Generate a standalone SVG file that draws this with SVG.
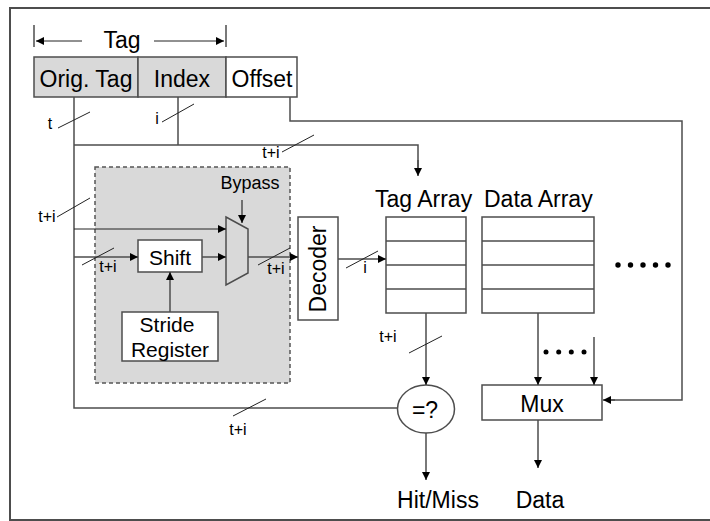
<svg xmlns="http://www.w3.org/2000/svg" width="710" height="521" viewBox="0 0 710 521">
  <style>
    .ln { fill: none; stroke: #4d4d4d; stroke-width: 1.5; }
    .thin { fill: none; stroke: #222; stroke-width: 1; }
    .box { fill: #fff; stroke: #4d4d4d; stroke-width: 1.5; }
    .grey { fill: #d9d9d9; stroke: #4d4d4d; stroke-width: 1.5; }
    .t { font-family: "Liberation Sans", Arial, sans-serif; fill: #000; }
    .big { font-size: 23px; }
    .mid { font-size: 21px; }
    .sm { font-size: 16px; }
    .dot { fill: #000; }
  </style>
  <defs>
    <marker id="arr" markerUnits="userSpaceOnUse" markerWidth="10" markerHeight="10" refX="9" refY="5" orient="auto">
      <path d="M1,1 L9,5 L1,9 Z" fill="#000"/>
    </marker>
  </defs>

  <!-- frame -->
  <rect x="10" y="8" width="720" height="512" fill="#fff" stroke="#4d4d4d" stroke-width="2"/>

  <!-- address fields -->
  <g id="tag-span">
    <line class="ln" x1="34" y1="25" x2="34" y2="47"/>
    <line class="ln" x1="226" y1="25" x2="226" y2="47"/>
    <line class="thin" x1="82" y1="41" x2="36" y2="41" marker-end="url(#arr)"/>
    <line class="thin" x1="154" y1="41" x2="224" y2="41" marker-end="url(#arr)"/>
    <text class="t big" x="122" y="48" text-anchor="middle">Tag</text>
  </g>
  <g id="orig-tag">
    <rect class="grey" x="34" y="57" width="104" height="40"/>
    <text class="t big" x="86" y="87" text-anchor="middle">Orig. Tag</text>
  </g>
  <g id="index">
    <rect class="grey" x="138" y="57" width="88" height="40"/>
    <text class="t big" x="182" y="87" text-anchor="middle">Index</text>
  </g>
  <g id="offset">
    <rect class="box" x="226" y="57" width="71" height="40"/>
    <text class="t big" x="262" y="87" text-anchor="middle">Offset</text>
  </g>

  <!-- prefetch shift unit -->
  <g id="shift-unit">
    <rect x="95" y="167" width="195" height="216" fill="#d9d9d9" stroke="#555" stroke-width="1.5" stroke-dasharray="4,3"/>
    <text class="t" font-size="18" x="250" y="189" text-anchor="middle">Bypass</text>
  </g>
  <g id="shift">
    <rect class="box" x="138" y="240" width="64" height="32"/>
    <text class="t mid" x="170" y="265" text-anchor="middle">Shift</text>
  </g>
  <g id="stride-register">
    <rect class="box" x="122" y="312" width="96" height="49"/>
    <text class="t mid" x="167" y="332" text-anchor="middle">Stride</text>
    <text class="t mid" x="170" y="357" text-anchor="middle">Register</text>
  </g>
  <g id="bypass-mux">
    <polygon points="226,217 248,229 248,273 226,285" fill="#d9d9d9" stroke="#4d4d4d" stroke-width="1.5"/>
  </g>
  <g id="decoder">
    <rect class="box" x="298" y="217" width="40" height="103"/>
    <text class="t big" transform="translate(326,269) rotate(-90)" text-anchor="middle">Decoder</text>
  </g>

  <!-- arrays -->
  <g id="tag-array">
    <text class="t big" x="375" y="207">Tag Array</text>
    <rect class="box" x="386" y="217" width="80" height="96"/>
    <line class="ln" x1="386" y1="241" x2="466" y2="241"/>
    <line class="ln" x1="386" y1="265" x2="466" y2="265"/>
    <line class="ln" x1="386" y1="289" x2="466" y2="289"/>
  </g>
  <g id="data-array">
    <text class="t big" x="484" y="207">Data Array</text>
    <rect class="box" x="482" y="217" width="112" height="96"/>
    <line class="ln" x1="482" y1="241" x2="594" y2="241"/>
    <line class="ln" x1="482" y1="265" x2="594" y2="265"/>
    <line class="ln" x1="482" y1="289" x2="594" y2="289"/>
  </g>
  <g id="more-ways">
    <circle class="dot" cx="618" cy="265" r="2.7"/>
    <circle class="dot" cx="630.5" cy="265" r="2.7"/>
    <circle class="dot" cx="643" cy="265" r="2.7"/>
    <circle class="dot" cx="655.5" cy="265" r="2.7"/>
    <circle class="dot" cx="668" cy="265" r="2.7"/>
  </g>
  <g id="compare">
    <ellipse class="box" cx="426" cy="409" rx="28.5" ry="24"/>
    <text class="t big" x="425" y="418" text-anchor="middle">=?</text>
  </g>
  <g id="mux">
    <rect class="box" x="482" y="385" width="120" height="35"/>
    <text class="t big" x="542" y="412" text-anchor="middle">Mux</text>
  </g>
  <g id="outputs">
    <text class="t big" x="438" y="508" text-anchor="middle">Hit/Miss</text>
    <text class="t big" x="540" y="508" text-anchor="middle">Data</text>
  </g>

  <!-- connectors -->
  <g id="connectors">
    <!-- orig tag bus down and across to comparator -->
    <polyline class="ln" points="74,97 74,408 397,408"/>
    <!-- index bus -->
    <line class="ln" x1="178" y1="97" x2="178" y2="145"/>
    <!-- tag+index to tag array -->
    <polyline class="ln" points="74,145 418,145 418,168"/>
    <line class="ln" x1="418" y1="160" x2="418" y2="176" marker-end="url(#arr)"/>
    <!-- offset to mux select -->
    <polyline class="ln" points="290,97 290,121 682,121 682,400 610,400"/>
    <line class="ln" x1="615" y1="400" x2="603" y2="400" marker-end="url(#arr)"/>

    <!-- into shift unit -->
    <line class="thin" x1="74" y1="229" x2="226" y2="229" marker-end="url(#arr)"/>
    <line class="ln" x1="74" y1="257" x2="138" y2="257" marker-end="url(#arr)"/>
    <line class="ln" x1="202" y1="257" x2="226" y2="257" marker-end="url(#arr)"/>
    <line class="ln" x1="170" y1="312" x2="170" y2="272" marker-end="url(#arr)"/>
    <line class="ln" x1="242" y1="200" x2="242" y2="223" marker-end="url(#arr)"/>
    <line class="ln" x1="248" y1="257" x2="298" y2="257" marker-end="url(#arr)"/>
    <line class="ln" x1="338" y1="259" x2="386" y2="259" marker-end="url(#arr)"/>

    <!-- array outputs -->
    <line class="ln" x1="426" y1="313" x2="426" y2="385" marker-end="url(#arr)"/>
    <line class="ln" x1="426" y1="433" x2="426" y2="480" marker-end="url(#arr)"/>
    <line class="ln" x1="538" y1="313" x2="538" y2="385" marker-end="url(#arr)"/>
    <line class="ln" x1="594" y1="337" x2="594" y2="385" marker-end="url(#arr)"/>
    <line class="ln" x1="538" y1="420" x2="538" y2="468" marker-end="url(#arr)"/>
    <circle class="dot" cx="546" cy="352" r="2.5"/>
    <circle class="dot" cx="558.7" cy="352" r="2.5"/>
    <circle class="dot" cx="571.3" cy="352" r="2.5"/>
    <circle class="dot" cx="584" cy="352" r="2.5"/>

    <!-- bus width marks -->
    <line class="thin" x1="58" y1="128" x2="90" y2="112"/>
    <text class="t sm" x="50" y="129" text-anchor="middle">t</text>
    <line class="thin" x1="162" y1="122" x2="194" y2="104"/>
    <text class="t sm" x="157" y="124" text-anchor="middle">i</text>
    <line class="thin" x1="282" y1="152" x2="314" y2="135"/>
    <text class="t sm" x="271" y="158" text-anchor="middle">t+i</text>
    <line class="thin" x1="57" y1="217" x2="90" y2="198"/>
    <text class="t sm" x="47" y="222" text-anchor="middle">t+i</text>
    <line class="thin" x1="82" y1="265" x2="114" y2="248"/>
    <text class="t sm" x="108" y="272" text-anchor="middle">t+i</text>
    <line class="thin" x1="258" y1="265" x2="290" y2="248"/>
    <text class="t sm" x="276" y="274" text-anchor="middle">t+i</text>
    <line class="thin" x1="346" y1="268" x2="378" y2="251"/>
    <text class="t sm" x="365" y="273" text-anchor="middle">i</text>
    <line class="thin" x1="409" y1="353" x2="442" y2="336"/>
    <text class="t sm" x="388" y="342" text-anchor="middle">t+i</text>
    <line class="thin" x1="233" y1="416" x2="266" y2="399"/>
    <text class="t sm" x="238" y="435" text-anchor="middle">t+i</text>
  </g>
</svg>
